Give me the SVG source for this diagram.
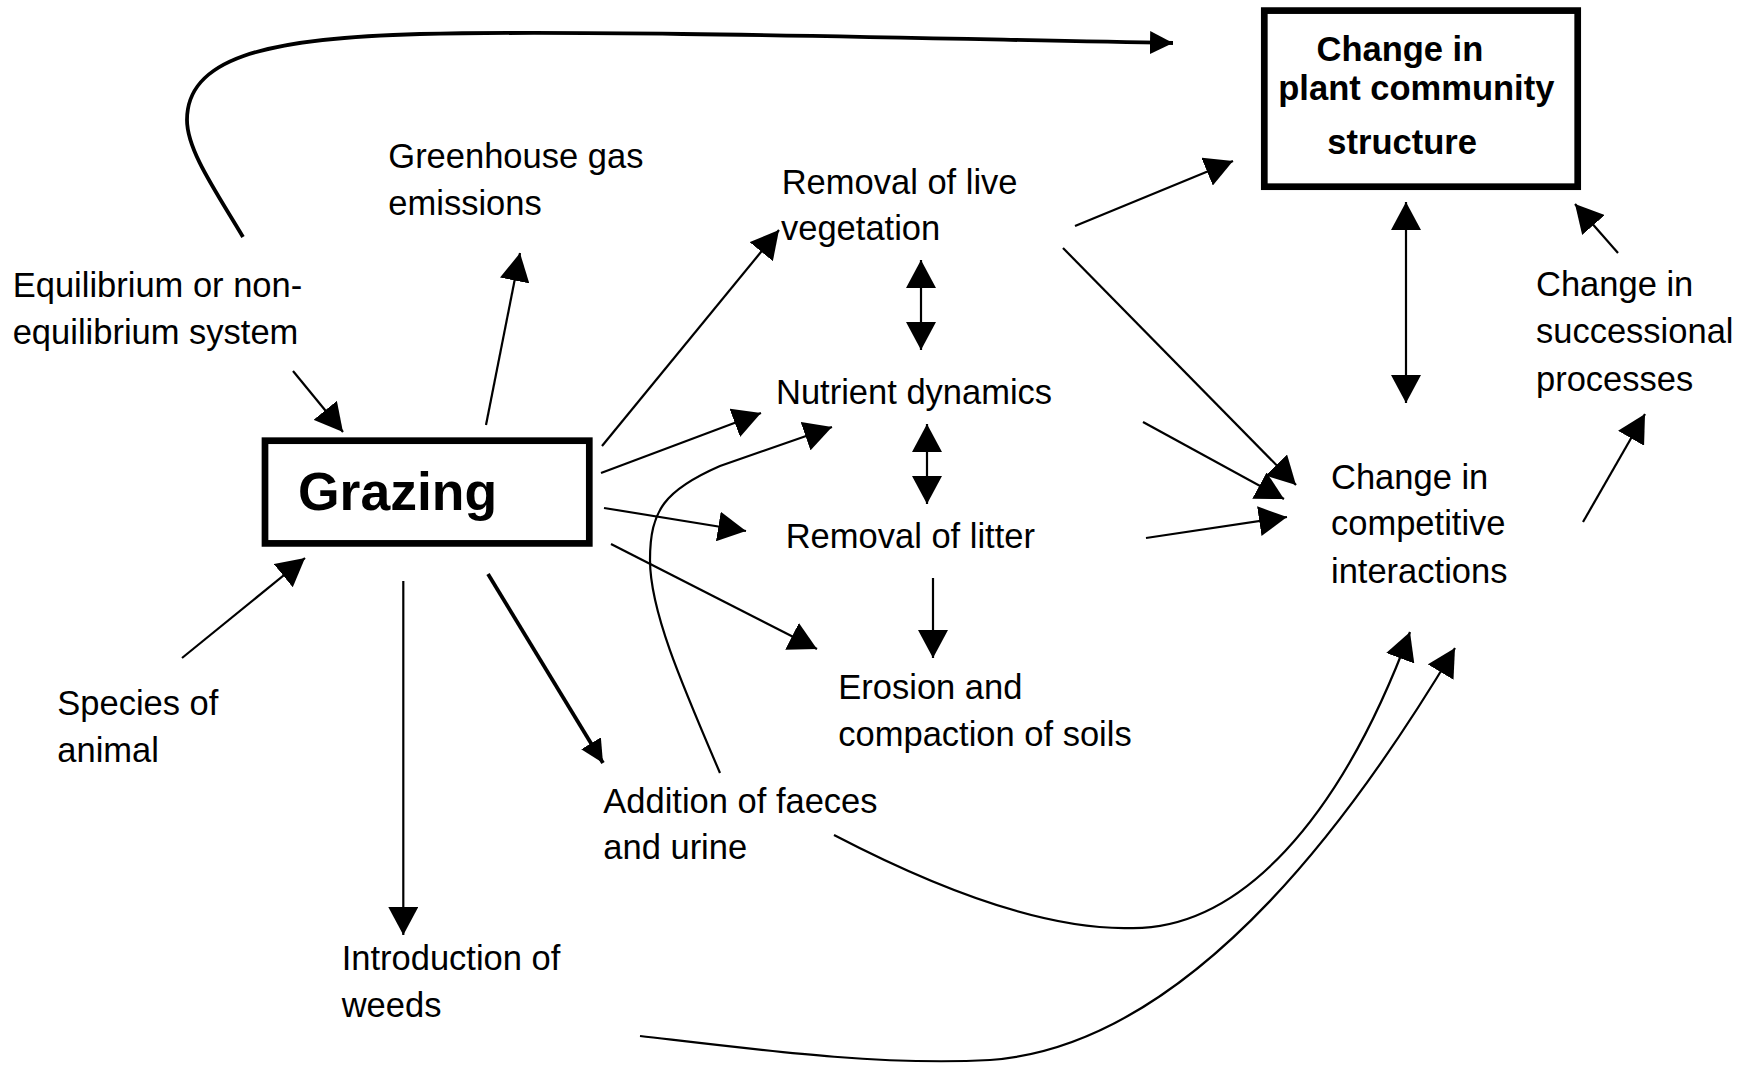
<svg xmlns="http://www.w3.org/2000/svg" width="1739" height="1065" viewBox="0 0 1739 1065">
  <style>
    .lbl { font-family: "Liberation Sans", Arial, Helvetica, sans-serif; font-size: 34.5px; fill: #000; }
    .bold { font-family: "Liberation Sans", Arial, Helvetica, sans-serif; font-weight: bold; fill: #000; }
    .box { fill: #fff; stroke: #000; stroke-width: 6.7; }
    .ln { fill: none; stroke: #000; stroke-width: 2.2; }
    .thick { fill: none; stroke: #000; stroke-width: 3.8; }
  </style>
  <defs>
    <marker id="ah" markerUnits="userSpaceOnUse" viewBox="0 0 28 30" refX="28" refY="15" markerWidth="28" markerHeight="30" orient="auto-start-reverse">
      <path d="M0,0 L28,15 L0,30 Z" fill="#000"/>
    </marker>
    <marker id="ahs" markerUnits="userSpaceOnUse" viewBox="0 0 23 23" refX="23" refY="11.5" markerWidth="23" markerHeight="23" orient="auto">
      <path d="M0,0 L23,11.5 L0,23 Z" fill="#000"/>
    </marker>
  </defs>

  <rect width="1739" height="1065" fill="#fff"/>

  <!-- connectors -->
  <g id="connectors">
    <!-- long loop from the system type to community structure -->
    <path class="thick" d="M243,237 C215,190 187,150 187,120 C187,60 260,38 420,34 C600,30 900,38 1173,43" marker-end="url(#ahs)"/>
    <line class="ln" x1="293" y1="371" x2="343" y2="432" marker-end="url(#ah)"/>
    <line class="ln" x1="486" y1="425" x2="520" y2="253" marker-end="url(#ah)"/>
    <line class="ln" x1="602" y1="446" x2="779" y2="230" marker-end="url(#ah)"/>
    <line class="ln" x1="601" y1="473" x2="761" y2="413" marker-end="url(#ah)"/>
    <path class="ln" d="M720,773 C680,680 650,610 650,560 C650,510 665,490 720,466 L832,427" marker-end="url(#ah)"/>
    <line class="ln" x1="604" y1="508" x2="746" y2="531" marker-end="url(#ah)"/>
    <line class="ln" x1="611" y1="544" x2="817" y2="649" marker-end="url(#ah)"/>
    <line class="thick" x1="488" y1="574" x2="603" y2="763" marker-end="url(#ahs)"/>
    <line class="ln" x1="403.3" y1="581" x2="403.3" y2="935" marker-end="url(#ah)"/>
    <line class="ln" x1="182" y1="658" x2="305" y2="558" marker-end="url(#ah)"/>
    <line class="ln" x1="921" y1="260" x2="921" y2="350" marker-start="url(#ah)" marker-end="url(#ah)"/>
    <line class="ln" x1="927" y1="424" x2="927" y2="504" marker-start="url(#ah)" marker-end="url(#ah)"/>
    <line class="ln" x1="933" y1="578" x2="933" y2="658" marker-end="url(#ah)"/>
    <line class="ln" x1="1075" y1="226" x2="1233" y2="161" marker-end="url(#ah)"/>
    <line class="ln" x1="1063" y1="248" x2="1296" y2="485" marker-end="url(#ah)"/>
    <line class="ln" x1="1143" y1="422" x2="1284" y2="499" marker-end="url(#ah)"/>
    <line class="ln" x1="1146" y1="538" x2="1287" y2="517" marker-end="url(#ah)"/>
    <line class="ln" x1="1406" y1="202" x2="1406" y2="403" marker-start="url(#ah)" marker-end="url(#ah)"/>
    <line class="ln" x1="1618" y1="253" x2="1575" y2="204" marker-end="url(#ah)"/>
    <line class="ln" x1="1583" y1="522" x2="1645" y2="414" marker-end="url(#ah)"/>
    <path class="ln" d="M834,835 C930,885 1040,930 1130,928 C1240,930 1340,820 1410,632" marker-end="url(#ah)"/>
    <path class="ln" d="M640,1036 C760,1050 880,1066 990,1060 C1200,1045 1370,790 1455,648" marker-end="url(#ah)"/>
  </g>

  <!-- nodes -->
  <g id="grazing">
    <rect class="box" x="265" y="440.7" width="324.3" height="102.7"/>
    <text class="bold" x="298" y="510" font-size="53.5">Grazing</text>
  </g>
  <g id="plant-community">
    <rect class="box" x="1264.3" y="10.6" width="313.4" height="176.1"/>
    <text class="bold" font-size="34.5"><tspan x="1316.5" y="61">Change in</tspan><tspan x="1278.3" y="100">plant community</tspan><tspan x="1327.3" y="154.3">structure</tspan></text>
  </g>
  <g id="equilibrium">
    <text class="lbl"><tspan x="12.7" y="297">Equilibrium or non-</tspan><tspan x="12.7" y="343.5">equilibrium system</tspan></text>
  </g>
  <g id="greenhouse">
    <text class="lbl"><tspan x="388.3" y="168">Greenhouse gas</tspan><tspan x="388.3" y="214.5">emissions</tspan></text>
  </g>
  <g id="live-vegetation">
    <text class="lbl"><tspan x="781.7" y="193.5">Removal of live</tspan><tspan x="781" y="240">vegetation</tspan></text>
  </g>
  <g id="nutrients">
    <text class="lbl" x="776" y="403.5">Nutrient dynamics</text>
  </g>
  <g id="litter">
    <text class="lbl" x="785.7" y="547.7">Removal of litter</text>
  </g>
  <g id="erosion">
    <text class="lbl"><tspan x="838.3" y="698.5">Erosion and</tspan><tspan x="838.3" y="745.5">compaction of soils</tspan></text>
  </g>
  <g id="faeces">
    <text class="lbl"><tspan x="603.3" y="812.5">Addition of faeces</tspan><tspan x="603.3" y="858.7">and urine</tspan></text>
  </g>
  <g id="weeds">
    <text class="lbl"><tspan x="341.7" y="970">Introduction of</tspan><tspan x="341.7" y="1016.7">weeds</tspan></text>
  </g>
  <g id="species">
    <text class="lbl"><tspan x="57.3" y="715">Species of</tspan><tspan x="57.3" y="761.7">animal</tspan></text>
  </g>
  <g id="competition">
    <text class="lbl"><tspan x="1331" y="488.5">Change in</tspan><tspan x="1331" y="535.2">competitive</tspan><tspan x="1331" y="582.8">interactions</tspan></text>
  </g>
  <g id="succession">
    <text class="lbl"><tspan x="1536" y="295.5">Change in</tspan><tspan x="1536" y="343.3">successional</tspan><tspan x="1536" y="390.5">processes</tspan></text>
  </g>
</svg>
